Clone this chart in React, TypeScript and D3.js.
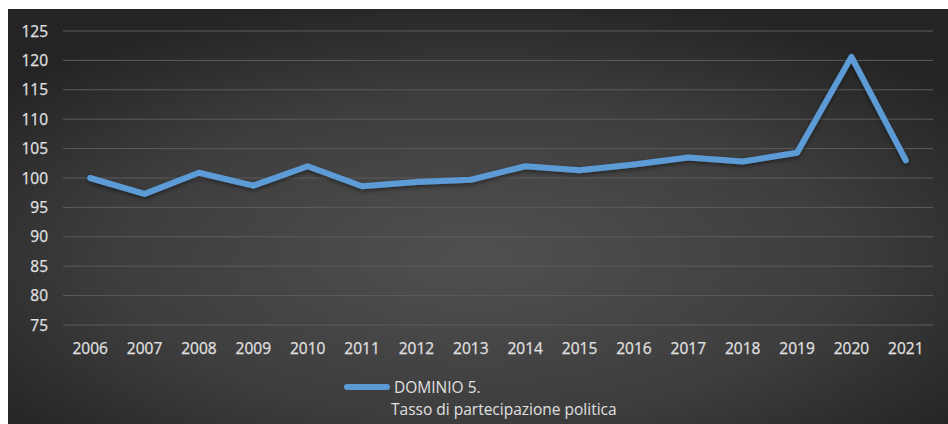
import React from "react";
import * as d3 from "d3";

const years = ["2006","2007","2008","2009","2010","2011","2012","2013","2014","2015","2016","2017","2018","2019","2020","2021"];
const values = [100, 97.3, 100.9, 98.7, 102, 98.6, 99.3, 99.7, 102, 101.3, 102.3, 103.5, 102.8, 104.3, 120.6, 103];
const yTicks = [75, 80, 85, 90, 95, 100, 105, 110, 115, 120, 125];
const seriesName = ["DOMINIO 5.", "Tasso di partecipazione politica"];

export default function App() {
  const W = 948, H = 424;
  const x = d3.scaleBand<string>().domain(years).range([63, 933]);
  const y = d3.scaleLinear().domain([75, 125]).range([325, 31]);
  const line = d3.line<number>()
    .x((_, i) => (x(years[i]) as number) + x.bandwidth() / 2)
    .y((d) => y(d));
  const font = "'Open Sans', sans-serif";
  const fs = 15.5;
  const tc = "#e0e0e0";
  return (
    <svg width={W} height={H} style={{ position: "absolute", left: 0, top: 0 }}>
      <defs>
        <radialGradient id="bg" cx="50%" cy="60%" r="65%">
          <stop offset="0%" stopColor="#505050" />
          <stop offset="60%" stopColor="#3d3d3d" />
          <stop offset="100%" stopColor="#242424" />
        </radialGradient>
        <filter id="sh" x="-5%" y="-20%" width="110%" height="140%">
          <feDropShadow dx="0" dy="2" stdDeviation="2" floodColor="#000" floodOpacity="0.45" />
        </filter>
      </defs>
      <rect x={0} y={0} width={W} height={H} fill="#fff" />
      <rect x={8} y={9} width={W - 8} height={H - 9} fill="url(#bg)" />
      {yTicks.map((t) => (
        <g key={t}>
          <line x1={63} x2={933} y1={y(t)} y2={y(t)} stroke="#5c5c5c" strokeWidth={1} />
          <text x={48} y={y(t)} dy="0.36em" textAnchor="end" fill={tc} fontSize={fs} fontFamily={font} stroke={tc} strokeWidth={0.25}>{t}</text>
        </g>
      ))}
      {years.map((yr) => (
        <text key={yr} x={(x(yr) as number) + x.bandwidth() / 2} y={348} dy="0.36em" textAnchor="middle" fill={tc} fontSize={fs} fontFamily={font} stroke={tc} strokeWidth={0.25}>{yr}</text>
      ))}
      <path d={line(values) || ""} fill="none" stroke="#5b9bd5" strokeWidth={6} strokeLinejoin="round" strokeLinecap="round" filter="url(#sh)" />
      <line x1={347} x2={387} y1={387} y2={387} stroke="#5b9bd5" strokeWidth={6} strokeLinecap="round" />
      <text x={394} y={387} dy="0.36em" fill={tc} fontSize={fs} fontFamily={font}>{seriesName[0]}</text>
      <text x={391} y={409} dy="0.36em" fill={tc} fontSize={fs} fontFamily={font}>{seriesName[1]}</text>
    </svg>
  );
}
